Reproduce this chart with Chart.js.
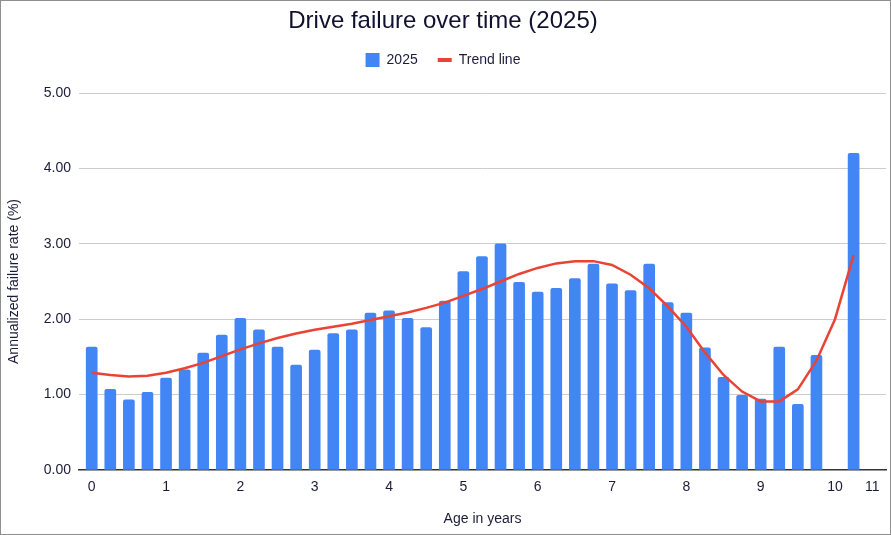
<!DOCTYPE html>
<html>
<head>
<meta charset="utf-8">
<title>Drive failure over time (2025)</title>
<script src="https://cdn.jsdelivr.net/npm/chart.js@4.4.1/dist/chart.umd.min.js"></script>
<style>
    html, body { margin: 0; padding: 0; background: #fff; }
    canvas { display: block; }
</style>
</head>
<body>
<canvas id="driveChart" width="891" height="535"></canvas>
<script>
// drive age in years, one bar per quarter
let ages = [0, 0.25, 0.5, 0.75, 1, 1.25, 1.5, 1.75, 2, 2.25, 2.5, 2.75,
    3, 3.25, 3.5, 3.75, 4, 4.25, 4.5, 4.75, 5, 5.25, 5.5, 5.75,
    6, 6.25, 6.5, 6.75, 7, 7.25, 7.5, 7.75, 8, 8.25, 8.5, 8.75,
    9, 9.25, 9.5, 9.75, 10, 10.25];

// annualized failure rate (%) for 2025, no value at 10 years
let failureRates = [1.63, 1.07, 0.93, 1.03, 1.22, 1.33, 1.55, 1.79, 2.01, 1.86, 1.63, 1.39,
    1.59, 1.81, 1.86, 2.08, 2.11, 2.01, 1.89, 2.24, 2.63, 2.83, 3.00, 2.49,
    2.36, 2.41, 2.54, 2.73, 2.47, 2.38, 2.73, 2.22, 2.08, 1.62, 1.23, 0.99,
    0.94, 1.63, 0.87, 1.52, null, 4.20];

// trend line
let trendValues = [1.29, 1.26, 1.24, 1.25, 1.29, 1.35, 1.42, 1.51, 1.60, 1.68, 1.75, 1.81,
    1.86, 1.90, 1.94, 1.99, 2.04, 2.09, 2.15, 2.22, 2.31, 2.40, 2.50, 2.60,
    2.68, 2.74, 2.77, 2.77, 2.72, 2.59, 2.41, 2.17, 1.90, 1.56, 1.26, 1.04,
    0.91, 0.91, 1.07, 1.45, 2.00, 2.85];

// x axis labels and where they sit
let xTickValues = [0, 1, 2, 3, 4, 5, 6, 7, 8, 9, 10, 10.5];
let xTickLabels = ['0', '1', '2', '3', '4', '5', '6', '7', '8', '9', '10', '11'];

let barColor = '#4285F4';
let trendColor = '#EA4335';
let textColor = '#1c1c3a';

Chart.defaults.font.family = "'Liberation Sans', Arial, sans-serif";
Chart.defaults.color = textColor;

// white background and thin grey frame
const framePlugin = {
    id: 'frame',
    beforeInit(chart) {
        // extra room between legend and plot
        if (chart.legend) {
            const fitLegend = chart.legend.fit;
            chart.legend.fit = function () {
                fitLegend.bind(chart.legend)();
                this.height += 16;
            };
        }
    },
    beforeDraw(chart) {
        const ctx = chart.ctx;
        ctx.save();
        ctx.fillStyle = '#ffffff';
        ctx.fillRect(0, 0, chart.width, chart.height);
        ctx.restore();
    },
    afterDraw(chart) {
        const ctx = chart.ctx;
        ctx.save();
        ctx.strokeStyle = '#8f8f8f';
        ctx.lineWidth = 1;
        ctx.strokeRect(0.5, 0.5, chart.width - 1, chart.height - 1);
        ctx.restore();
    }
};

let ctxDrive = document.getElementById('driveChart').getContext('2d');

let driveChart = new Chart(ctxDrive, {
    type: 'bar',
    data: {
        labels: ages,
        datasets: [{
            label: '2025',
            data: failureRates,
            backgroundColor: barColor,
            borderWidth: 0,
            borderRadius: 2,
            barThickness: 11,
            order: 1
        }, {
            type: 'line',
            label: 'Trend line',
            data: trendValues,
            borderColor: trendColor,
            backgroundColor: trendColor,
            borderWidth: 2.5,
            pointRadius: 0,
            tension: 0,
            fill: false,
            order: 0
        }]
    },
    options: {
        responsive: false,
        animation: false,
        layout: {
            padding: { left: 0, right: 5, top: 0, bottom: 0 }
        },
        plugins: {
            title: {
                display: true,
                text: 'Drive failure over time (2025)',
                color: '#10102f',
                font: { size: 24, weight: 'normal', lineHeight: 1 },
                padding: { top: 9, bottom: 0 }
            },
            legend: {
                display: true,
                position: 'top',
                labels: {
                    color: textColor,
                    font: { size: 14 },
                    usePointStyle: true,
                    boxHeight: 14,
                    pointStyleWidth: 14,
                    padding: 20,
                    generateLabels: function (chart) {
                        return chart.data.datasets.map(function (ds, i) {
                            return {
                                text: ds.label,
                                fillStyle: ds.type === 'line' ? 'transparent' : ds.backgroundColor,
                                strokeStyle: ds.type === 'line' ? ds.borderColor : ds.backgroundColor,
                                lineWidth: ds.type === 'line' ? 4 : 0,
                                pointStyle: ds.type === 'line' ? 'line' : 'rect',
                                fontColor: textColor,
                                hidden: false,
                                datasetIndex: i
                            };
                        });
                    }
                }
            },
            tooltip: { enabled: false }
        },
        scales: {
            x: {
                type: 'linear',
                offset: false,
                min: -0.171,
                max: 10.686,
                afterBuildTicks: function (scale) {
                    scale.ticks = xTickValues.map(function (v) { return { value: v }; });
                },
                afterFit: function (scale) {
                    scale.height = 65;
                },
                ticks: {
                    autoSkip: false,
                    maxRotation: 0,
                    padding: 9,
                    font: { size: 14 },
                    color: textColor,
                    callback: function (value, index) {
                        return xTickLabels[index];
                    }
                },
                grid: {
                    color: 'transparent',
                    drawTicks: false
                },
                border: {
                    display: true,
                    color: '#333333',
                    width: 1.5
                },
                title: {
                    display: true,
                    text: 'Age in years',
                    color: textColor,
                    font: { size: 14 },
                    padding: { top: 0, bottom: 7 }
                }
            },
            y: {
                min: 0,
                max: 5,
                afterFit: function (scale) {
                    scale.width = 79;
                },
                ticks: {
                    stepSize: 1,
                    padding: 8,
                    font: { size: 14 },
                    color: textColor,
                    callback: function (value) {
                        return value.toFixed(2);
                    }
                },
                grid: {
                    drawTicks: false,
                    color: function (c) {
                        return c.tick && c.tick.value === 0 ? 'transparent' : '#cccccc';
                    }
                },
                border: { display: false },
                title: {
                    display: true,
                    text: 'Annualized failure rate (%)',
                    color: textColor,
                    font: { size: 14 },
                    padding: { top: 6, bottom: 0 }
                }
            }
        }
    },
    plugins: [framePlugin]
});
</script>
</body>
</html>
